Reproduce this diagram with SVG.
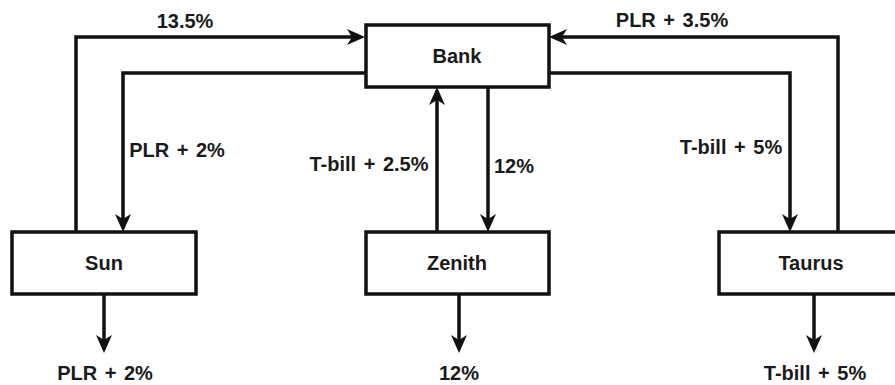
<svg xmlns="http://www.w3.org/2000/svg" width="895" height="385" viewBox="0 0 895 385">
<style>
.box{fill:#fff;stroke:#111;stroke-width:3.5}
.ln{fill:none;stroke:#111;stroke-width:3.5;marker-end:url(#ah)}
text{font-family:"Liberation Sans",Arial,sans-serif;font-size:20px;font-weight:bold;fill:#1a1a1a;text-anchor:middle;word-spacing:2px}
</style>
<defs>
<marker id="ah" markerUnits="userSpaceOnUse" markerWidth="20" markerHeight="16" refX="14" refY="8" orient="auto" overflow="visible">
<path d="M0,0 L18,8 L0,16 L5,8 Z" fill="#111"/>
</marker>
</defs>
<rect width="895" height="385" fill="#fff"/>
<g id="connectors">
<path class="ln" d="M76,232 V37 H361"/>
<path class="ln" d="M366,73 H123 V228"/>
<path class="ln" d="M437,232 V91"/>
<path class="ln" d="M488,87 V228"/>
<path class="ln" d="M549,73 H790 V228"/>
<path class="ln" d="M838,232 V37 H553"/>
<path class="ln" d="M104,294 V349"/>
<path class="ln" d="M459,294 V349"/>
<path class="ln" d="M814,294 V349"/>
<text x="185" y="28">13.5%</text>
<text x="177" y="157">PLR + 2%</text>
<text x="369" y="171">T-bill + 2.5%</text>
<text x="514" y="173">12%</text>
<text x="672" y="27">PLR + 3.5%</text>
<text x="731" y="154">T-bill + 5%</text>
<text x="105" y="380">PLR + 2%</text>
<text x="459" y="380">12%</text>
<text x="815" y="380">T-bill + 5%</text>
</g>
<g id="bank"><rect class="box" x="366" y="25" width="183" height="62"/><text x="457" y="63">Bank</text></g>
<g id="sun"><rect class="box" x="12" y="232" width="184" height="62"/><text x="104" y="270">Sun</text></g>
<g id="zenith"><rect class="box" x="366" y="232" width="183" height="62"/><text x="457" y="270">Zenith</text></g>
<g id="taurus"><rect class="box" x="719" y="232" width="184" height="62"/><text x="811" y="270">Taurus</text></g>
</svg>
